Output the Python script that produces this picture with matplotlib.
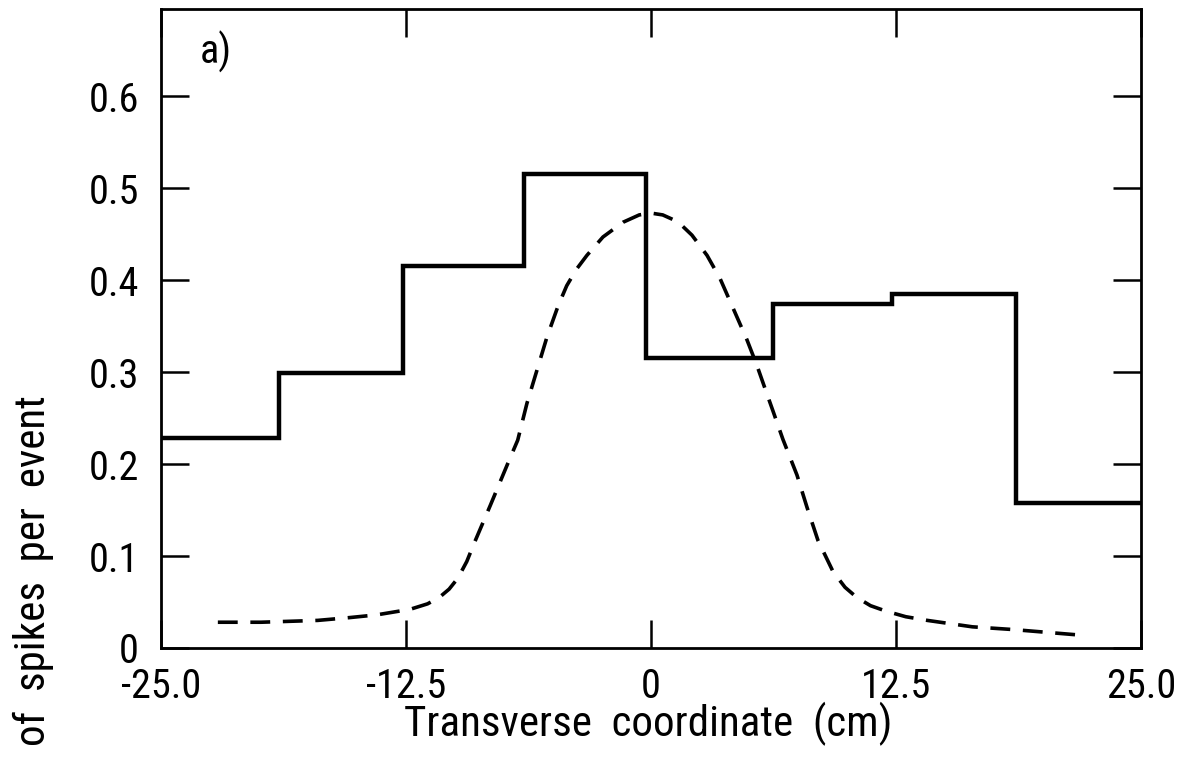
import matplotlib
matplotlib.use("Agg")
import matplotlib.pyplot as plt
from matplotlib import font_manager

# prefer a narrow face for the lettering
fonts = font_manager.fontManager.ttflist
names = {f.name for f in fonts}
narrow = None
for cand in ["Liberation Sans Narrow", "Roboto Condensed", "Open Sans Condensed"]:
    if cand in names:
        narrow = cand
        break
if narrow:
    plt.rcParams["font.family"] = [narrow, "DejaVu Sans"]
    fsize, lsize = 29, 31
else:
    plt.rcParams["font.family"] = ["DejaVu Sans"]
    fsize, lsize = 25, 26
plt.rcParams["font.weight"] = "normal"

# histogram of spikes per event
bin_edges = [-25.0, -19.0, -12.65, -6.5, -0.25, 6.2, 12.3, 18.6, 25.0]
spikes = [0.228, 0.299, 0.415, 0.516, 0.315, 0.374, 0.385, 0.158]

# expected profile (dashed)
curve_x = [-22.1, -19.9, -17.0, -15.4, -14.0, -12.3, -11.4, -10.8, -10.3, -9.85,
           -9.4, -9.0, -8.2, -7.3, -6.8, -6.33, -5.82, -5.31, -4.74, -4.3,
           -3.8, -3.27, -2.45, -1.43, -0.6, 0.0, 0.6, 1.12, 1.6, 2.09,
           2.86, 3.52, 4.18, 4.90, 5.41, 5.97, 6.22, 6.73, 7.45, 7.96,
           8.52, 9.29, 9.9, 10.5, 11.2, 12.0, 13.0, 14.1, 16.4, 18.5,
           20.2, 21.9]
curve_y = [0.028, 0.028, 0.030, 0.033, 0.036, 0.042, 0.048, 0.055, 0.064, 0.076,
           0.094, 0.115, 0.155, 0.201, 0.226, 0.266, 0.302, 0.338, 0.372, 0.394,
           0.412, 0.427, 0.447, 0.463, 0.471, 0.473, 0.471, 0.466, 0.459, 0.449,
           0.427, 0.402, 0.370, 0.335, 0.307, 0.273, 0.258, 0.227, 0.188, 0.153,
           0.117, 0.083, 0.066, 0.055, 0.046, 0.040, 0.034, 0.030, 0.023, 0.020,
           0.017, 0.014]

xticks = [-25.0, -12.5, 0.0, 12.5, 25.0]
xticklabels = ["-25.0", "-12.5", "0", "12.5", "25.0"]
yticks = [0, 0.1, 0.2, 0.3, 0.4, 0.5, 0.6]
yticklabels = ["0", "0.1", "0.2", "0.3", "0.4", "0.5", "0.6"]

fig = plt.figure(figsize=(11.9, 7.6), dpi=100)
ax = fig.add_axes([0.1353, 0.1474, 0.8235, 0.8408])

ax.stairs(spikes, bin_edges, baseline=None, color="black", linewidth=3.2)
ax.plot(curve_x, curve_y, color="black", linewidth=2.6, linestyle=(0, (5.5, 3.5)))

ax.set_xlim(-25, 25)
ax.set_ylim(0, 0.695)
ax.set_xticks(xticks)
ax.set_xticklabels(xticklabels)
ax.set_yticks(yticks)
ax.set_yticklabels(yticklabels)

for s in ax.spines.values():
    s.set_linewidth(2.0)
ax.tick_params(axis="both", direction="in", length=20, width=1.8,
               labelsize=fsize, top=True, right=True)
ax.tick_params(axis="x", pad=14)
ax.tick_params(axis="y", pad=16)

# axis titles placed on the figure by baseline
fig.text(0.545, 0.031, "Transverse  coordinate  (cm)", ha="center",
         va="baseline", fontsize=lsize)
fig.text(0.028, 0.48, "Number  of  spikes  per  event", rotation=90,
         ha="center", va="top", fontsize=lsize)
ax.text(0.04, 0.915, "a)", transform=ax.transAxes, fontsize=fsize)

plt.savefig("out.png", dpi=100)
